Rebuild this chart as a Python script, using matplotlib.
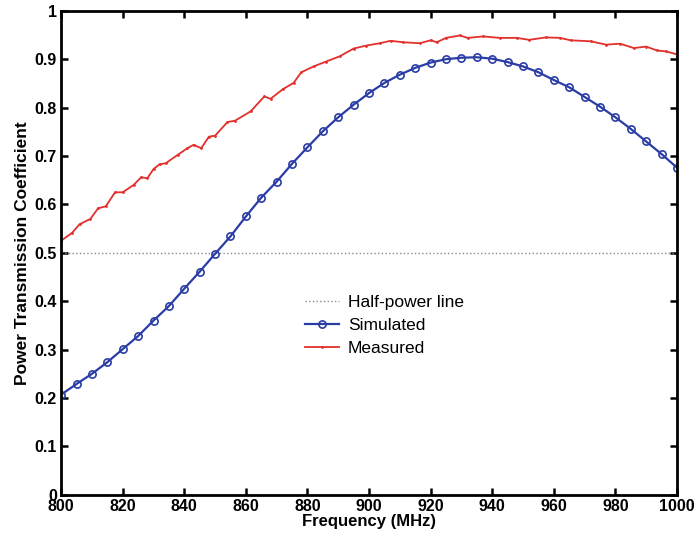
import matplotlib.pyplot as plt

plt.rcParams['font.family'] = ['Liberation Sans', 'DejaVu Sans']

# simulated curve, every 5 MHz
sim_freq = list(range(800, 1001, 5))
sim_vals = [0.207, 0.229, 0.250, 0.274, 0.301, 0.328, 0.360, 0.390, 0.426, 0.461,
            0.498, 0.534, 0.575, 0.614, 0.647, 0.684, 0.718, 0.751, 0.780, 0.806,
            0.830, 0.851, 0.868, 0.882, 0.893, 0.900, 0.903, 0.904, 0.901, 0.894,
            0.885, 0.873, 0.857, 0.842, 0.822, 0.802, 0.780, 0.756, 0.730, 0.704,
            0.676]

# measured curve
meas_freq = [800, 803.5, 806, 809.5, 812, 814.5, 817.5, 820, 823.5, 826, 828, 830,
             832, 834, 838, 841, 843, 845.5, 848, 850, 854, 856.5, 861.5, 866, 868,
             872, 875.5, 878, 882, 886, 890.5, 895, 899, 903.5, 907, 911, 916.5,
             920, 922, 925, 929.5, 932, 937, 942.5, 948, 952, 957.5, 962, 965.5,
             972, 977, 981.5, 986, 990, 993.5, 996.5, 1000]
meas_vals = [0.525, 0.541, 0.559, 0.570, 0.592, 0.596, 0.625, 0.625, 0.640, 0.656,
             0.654, 0.673, 0.683, 0.685, 0.703, 0.716, 0.723, 0.716, 0.740, 0.742,
             0.770, 0.773, 0.792, 0.823, 0.818, 0.838, 0.851, 0.873, 0.885, 0.895,
             0.906, 0.922, 0.928, 0.933, 0.938, 0.935, 0.933, 0.939, 0.935, 0.944,
             0.949, 0.944, 0.947, 0.944, 0.944, 0.940, 0.945, 0.944, 0.939, 0.937,
             0.930, 0.932, 0.923, 0.926, 0.918, 0.916, 0.910]

half_power = 0.5

fig = plt.figure(figsize=(6.95, 5.39), dpi=100)
ax = fig.add_axes([0.088, 0.082, 0.886, 0.898])

ax.axhline(half_power, color='#888888', linestyle=':', linewidth=1.0, label='Half-power line')
ax.plot(sim_freq, sim_vals, color='#2a3ca6', linewidth=1.6, marker='o', markersize=5.2,
        markerfacecolor='none', markeredgewidth=1.2, label='Simulated')
ax.plot(meas_freq, meas_vals, color='#e2302c', linewidth=1.3, marker='.', markersize=2,
        label='Measured')

ax.set_xlim(800, 1000)
ax.set_ylim(0, 1)
ax.set_xticks(range(800, 1001, 20))
ax.set_yticks([i / 10 for i in range(11)])
ax.set_yticklabels(['0', '0.1', '0.2', '0.3', '0.4', '0.5', '0.6', '0.7', '0.8', '0.9', '1'])

ax.tick_params(direction='in', top=True, right=True, length=5, width=1.8,
               labelsize=11.5, pad=3)
for lbl in ax.get_xticklabels() + ax.get_yticklabels():
    lbl.set_fontweight('bold')
for sp in ax.spines.values():
    sp.set_linewidth(2)

ax.set_xlabel('Frequency (MHz)', fontsize=12, fontweight='bold', labelpad=0)
ax.set_ylabel('Power Transmission Coefficient', fontsize=12.5, fontweight='bold', labelpad=3)

ax.legend(loc='upper left', bbox_to_anchor=(0.37, 0.445), frameon=False, fontsize=12.5,
          handlelength=2.0, handletextpad=0.5, labelspacing=0.45)

fig.savefig('out.png', dpi=100)
